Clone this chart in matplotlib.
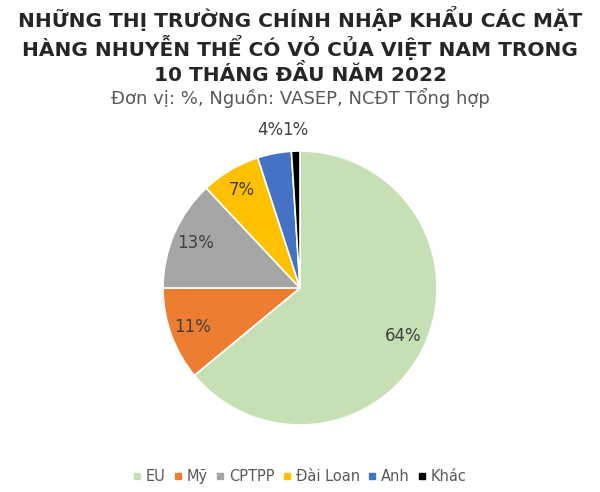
import numpy as np
import matplotlib.pyplot as plt

# Dữ liệu
labels = ['EU', 'Mỹ', 'CPTPP', 'Đài Loan', 'Anh', 'Khác']
values = [64, 11, 13, 7, 4, 1]
colors = ['#C5E0B4', '#ED7D31', '#A5A5A5', '#FFC000', '#4472C4', '#000000']

plt.rcParams['font.family'] = ['DejaVu Sans']

fig = plt.figure(figsize=(6, 4.92), dpi=100)

# Título
fig.text(0.5, 0.988, 'NHỮNG THỊ TRƯỜNG CHÍNH NHẬP KHẨU CÁC MẶT\nHÀNG NHUYỄN THỂ CÓ VỎ CỦA VIỆT NAM TRONG\n10 THÁNG ĐẦU NĂM 2022',
         ha='center', va='top', fontsize=14.5, fontweight='bold', color='#262626', linespacing=1.2)
fig.text(0.5, 0.822, 'Đơn vị: %, Nguồn: VASEP, NCĐT Tổng hợp',
         ha='center', va='top', fontsize=13, color='#595959')

r_px = 137
ax = fig.add_axes([(300 - r_px) / 600, (204 - r_px) / 492, 2 * r_px / 600, 2 * r_px / 492])
wedges, texts, autotexts = ax.pie(values, colors=colors, startangle=90, counterclock=False,
                                  autopct='%1.0f%%', pctdistance=0.83,
                                  wedgeprops=dict(edgecolor='white', linewidth=1.2),
                                  textprops=dict(color='#404040', fontsize=12))
ax.set_xlim(-1, 1)
ax.set_ylim(-1, 1)
ax.set_aspect('equal')

# Rótulos pequenos para fora
for w, t, v in zip(wedges, autotexts, values):
    if v < 5:
        ang = np.deg2rad((w.theta1 + w.theta2) / 2)
        t.set_position((1.15 * np.cos(ang), 1.15))
        t.set_clip_on(False)

# Legenda
handles = [plt.Line2D([], [], marker='s', linestyle='', markersize=5, color=c) for c in colors]
fig.legend(handles, labels, loc='center', bbox_to_anchor=(0.5, 0.032), ncol=6, frameon=False,
           fontsize=10.5, handlelength=0.5, handletextpad=0.35, columnspacing=0.6,
           labelcolor='#595959')

fig.savefig('out.png', dpi=100)
